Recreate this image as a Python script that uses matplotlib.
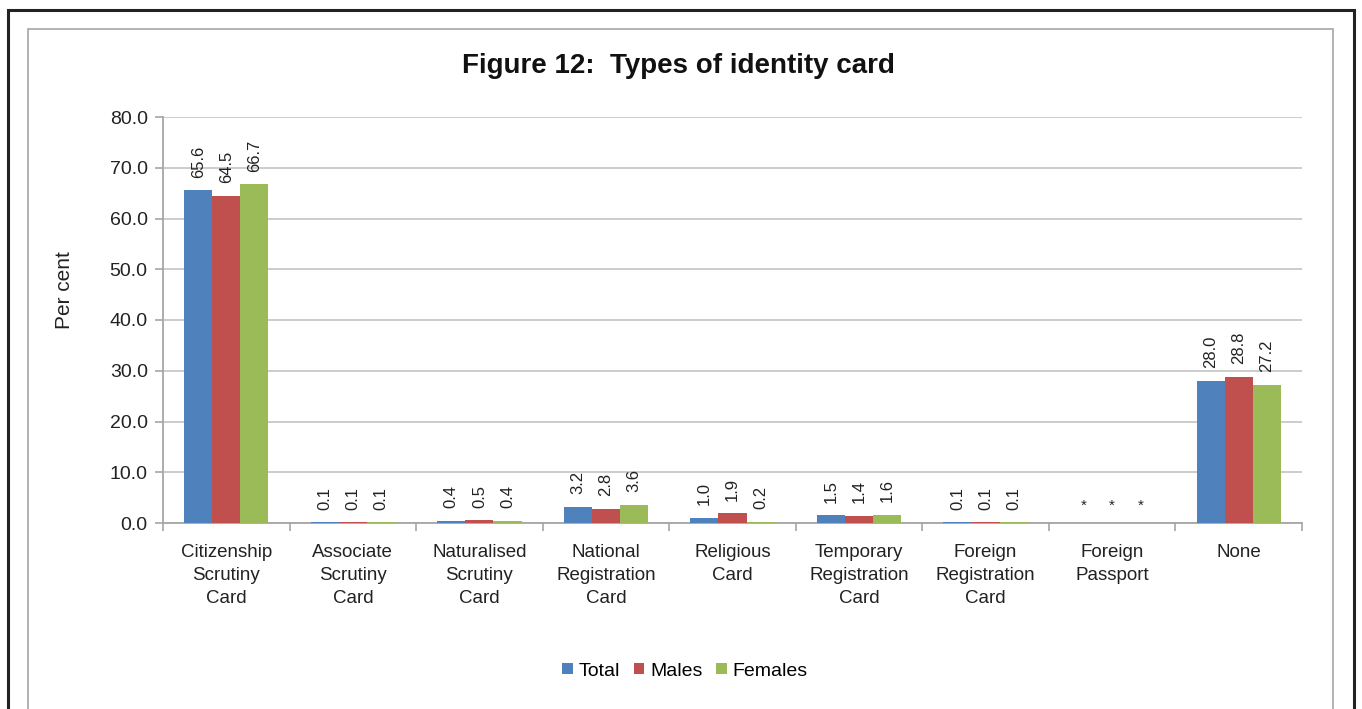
import numpy as np
import matplotlib.pyplot as plt
from matplotlib.patches import Rectangle

plt.rcParams['font.family'] = ['Liberation Sans', 'DejaVu Sans']

# data
categories = ["Citizenship\nScrutiny\nCard", "Associate\nScrutiny\nCard", "Naturalised\nScrutiny\nCard",
              "National\nRegistration\nCard", "Religious\nCard", "Temporary\nRegistration\nCard",
              "Foreign\nRegistration\nCard", "Foreign\nPassport", "None"]
total = [65.6, 0.1, 0.4, 3.2, 1.0, 1.5, 0.1, 0.0, 28.0]
males = [64.5, 0.1, 0.5, 2.8, 1.9, 1.4, 0.1, 0.0, 28.8]
females = [66.7, 0.1, 0.4, 3.6, 0.2, 1.6, 0.1, 0.0, 27.2]
total_lbl = ["65.6", "0.1", "0.4", "3.2", "1.0", "1.5", "0.1", "*", "28.0"]
males_lbl = ["64.5", "0.1", "0.5", "2.8", "1.9", "1.4", "0.1", "*", "28.8"]
females_lbl = ["66.7", "0.1", "0.4", "3.6", "0.2", "1.6", "0.1", "*", "27.2"]
series = ["Total", "Males", "Females"]
colors = ["#4F81BD", "#C0504D", "#9BBB59"]

W, H = 1362, 709
fig = plt.figure(figsize=(W/100, H/100), dpi=100)

# frames
fig.patches.append(Rectangle((8/W, -0.1), (1354-8)/W, 1.1-10/H, transform=fig.transFigure,
                             fill=False, ec="#222222", lw=2.2))
fig.patches.append(Rectangle((28/W, -0.1), (1333-28)/W, 1.1-29/H, transform=fig.transFigure,
                             fill=False, ec="#A6A6A6", lw=1.2))

ax = fig.add_axes([163/W, 1-523/H, (1302-163)/W, (523-117)/H])
x = np.arange(len(categories))
bw = 0.222
for i, (vals, lbls) in enumerate(zip([total, males, females], [total_lbl, males_lbl, females_lbl])):
    pos = x + (i-1)*bw
    ax.bar(pos, vals, bw, color=colors[i], label=series[i], zorder=3)
    for p, v, l in zip(pos, vals, lbls):
        if l == "*":
            ax.annotate(l, (p, v), xytext=(0, 7), textcoords="offset points",
                        ha="center", va="bottom", fontsize=11, color="#222222")
        else:
            ax.annotate(l, (p, v), xytext=(0, 9), textcoords="offset points",
                        ha="center", va="bottom", rotation=90, fontsize=12, color="#222222")

ax.set_xlim(-0.5, len(categories)-0.5)
ax.set_ylim(0, 80)
ax.set_yticks(np.arange(0, 81, 10))
ax.set_yticklabels([f"{v:.1f}" for v in np.arange(0, 81, 10)], fontsize=14, color="#222222")
ax.set_xticks(x)
ax.set_xticklabels(categories, fontsize=13.5, color="#222222", linespacing=1.45)
ax.set_xticks(np.arange(-0.5, len(categories)), minor=True)
ax.tick_params(axis="x", which="major", length=0, pad=15)
ax.tick_params(axis="x", which="minor", length=6, color="#A6A6A6", width=1.2)
ax.tick_params(axis="y", length=6, color="#A6A6A6", width=1.2, pad=5)
ax.grid(axis="y", color="#C8C8C8", lw=1.3, zorder=0)
for s in ["top", "right"]:
    ax.spines[s].set_visible(False)
for s in ["left", "bottom"]:
    ax.spines[s].set_color("#A6A6A6")
    ax.spines[s].set_linewidth(1.3)

ax.set_ylabel("Per cent", fontsize=15, color="#222222")
ax.yaxis.set_label_coords(-0.078, 0.574)
fig.text(678/W, 1-66/H, "Figure 12:  Types of identity card", ha="center", va="center",
         fontsize=20, fontweight="bold", color="#111111")

fig.legend(loc="center", bbox_to_anchor=(685/W, 1-671/H), ncol=3, frameon=False,
           fontsize=14, handlelength=0.55, handleheight=0.55, handletextpad=0.3,
           columnspacing=0.7)

fig.savefig("out.png", dpi=100)
